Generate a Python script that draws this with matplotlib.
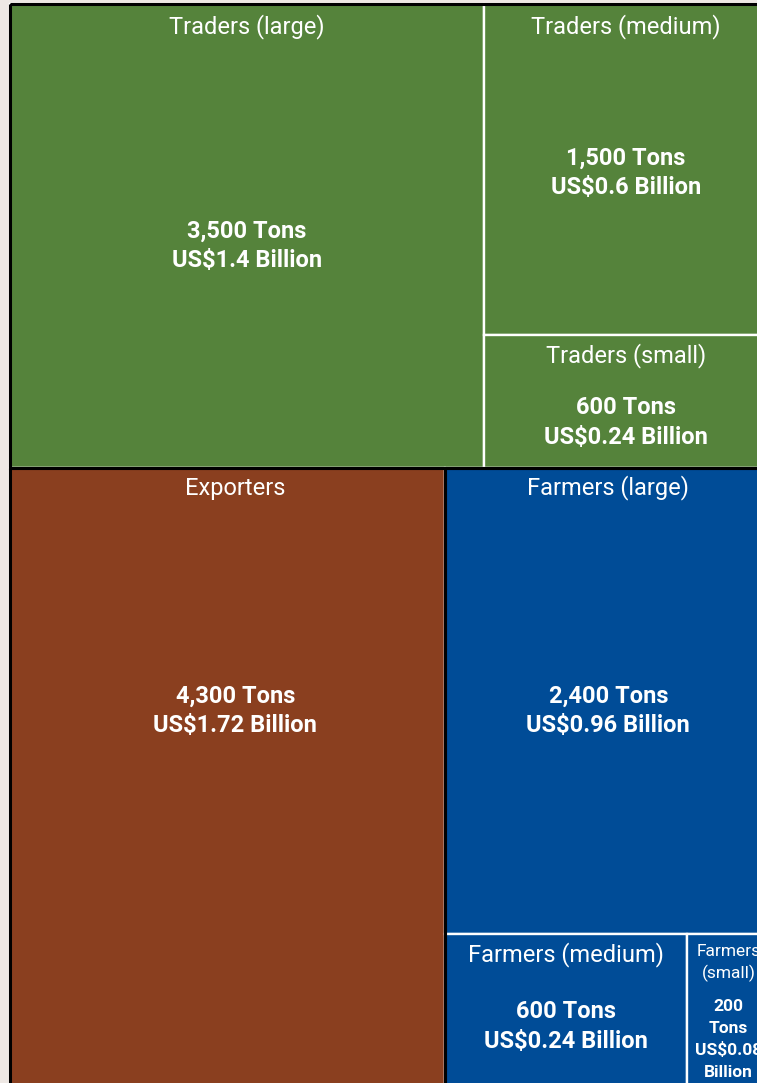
import matplotlib
matplotlib.use("Agg")
import matplotlib.pyplot as plt
from matplotlib.patches import Rectangle

# Tonnage per actor group (tons) and value (US$ billion)
groups = ["Traders", "Exporters", "Farmers"]
group_colors = ["#55833B", "#8A3F1F", "#004C97"]

trader_names = ["Traders (large)", "Traders (medium)", "Traders (small)"]
trader_tons = [3500, 1500, 600]
trader_value = [1.4, 0.6, 0.24]

exporter_names = ["Exporters"]
exporter_tons = [4300]
exporter_value = [1.72]

farmer_names = ["Farmers (large)", "Farmers (medium)", "Farmers\n(small)"]
farmer_tons = [2400, 600, 200]
farmer_value = [0.96, 0.24, 0.08]

# treemap canvas in pixel space
X0, Y0, W = 10, 4, 758
BG = "#EEE8E4"

fig = plt.figure(figsize=(7.57, 10.83), dpi=100, facecolor=BG)
ax = fig.add_axes([0, 0, 1, 1])
ax.set_xlim(0, 757)
ax.set_ylim(1083, 0)
ax.axis("off")
ax.set_facecolor(BG)

total = sum(trader_tons) + sum(exporter_tons) + sum(farmer_tons)
unit = 464.0 / sum(trader_tons)  # px of traders row height per ton
H = unit * total

# --- layout -------------------------------------------------------------
cells = []  # (name, tons, value, x, y, w, h, color)
parents = []

# top row: traders across the full width
th = H * sum(trader_tons) / total
parents.append((X0, Y0, W, th))
tw_large = W * trader_tons[0] / sum(trader_tons)
cells.append((trader_names[0], trader_tons[0], trader_value[0], X0, Y0, tw_large, th, group_colors[0]))
rest = trader_tons[1] + trader_tons[2]
y = Y0
for n, t, v in zip(trader_names[1:], trader_tons[1:], trader_value[1:]):
    h = th * t / rest
    cells.append((n, t, v, X0 + tw_large, y, W - tw_large, h, group_colors[0]))
    y += h

# bottom row: exporters | farmers
by = Y0 + th
bh = H - th
bottom_total = sum(exporter_tons) + sum(farmer_tons)
ew = W * sum(exporter_tons) / bottom_total
parents.append((X0, by, ew, bh))
cells.append((exporter_names[0], exporter_tons[0], exporter_value[0], X0, by, ew, bh, group_colors[1]))

fx = X0 + ew
fw = W - ew
parents.append((fx, by, fw, bh))
fh_large = bh * farmer_tons[0] / sum(farmer_tons)
cells.append((farmer_names[0], farmer_tons[0], farmer_value[0], fx, by, fw, fh_large, group_colors[2]))
rest = farmer_tons[1] + farmer_tons[2]
x = fx
for n, t, v in zip(farmer_names[1:], farmer_tons[1:], farmer_value[1:]):
    w = fw * t / rest
    cells.append((n, t, v, x, by + fh_large, w, bh - fh_large, group_colors[2]))
    x += w

# label placement
header_y = [27, 27, 356, 488, 488, 955, 963]
value_y = [245.5, 172.5, 422.5, 710.5, 710.5, 1026.5, 1039.5]
label_dx = [0, 0, 0, 8, 2, 0, 1]

for i, (name, tons, val, x, y, w, h, color) in enumerate(cells):
    ax.add_patch(Rectangle((x, y), w, h, facecolor=color, edgecolor="white", linewidth=1.7))
    cx = x + w / 2 + label_dx[i]
    small = w < 120
    if small:
        ax.text(cx, header_y[i], name, color="white", fontsize=12.5, family="Roboto",
                ha="center", va="center", linespacing=1.4)
        label = f"{tons:,}\nTons\nUS${val:g}\nBillion"
        ax.text(cx, value_y[i], label, color="white", fontsize=12.5, family="Roboto",
                fontweight="bold", ha="center", va="center", linespacing=1.52)
    else:
        ax.text(cx, header_y[i], name, color="white", fontsize=17, family="Roboto",
                ha="center", va="center")
        label = f"{tons:,} Tons\nUS${val:g} Billion"
        ax.text(cx, value_y[i], label, color="white", fontsize=17, family="Roboto",
                fontweight="bold", ha="center", va="center", linespacing=1.34)

for (x, y, w, h) in parents:
    ax.add_patch(Rectangle((x, y), w, h, facecolor="none", edgecolor="black", linewidth=2.2))

fig.savefig("out.png", dpi=100, facecolor=BG)
